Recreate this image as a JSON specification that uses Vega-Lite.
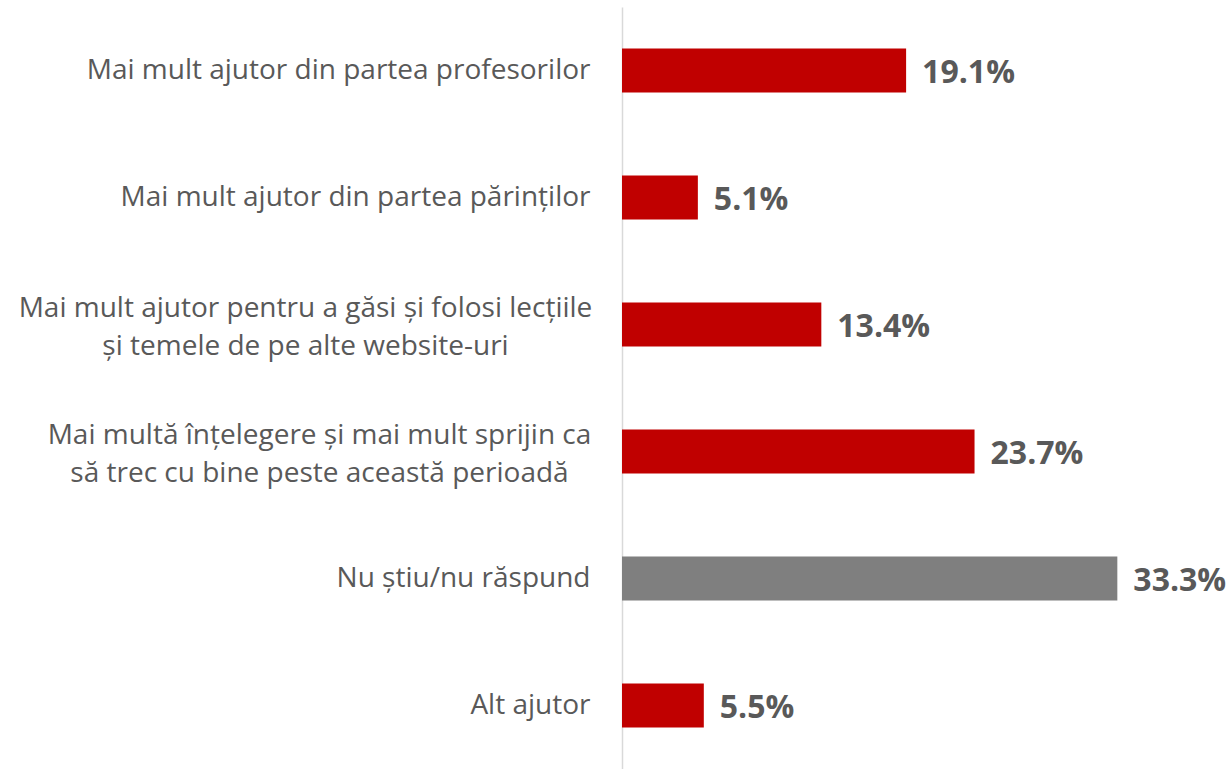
{
  "$schema": "https://vega.github.io/schema/vega-lite/v6.json",
  "autosize": "none",
  "width": 595,
  "height": 762,
  "padding": {"left": 622, "top": 7, "right": 10, "bottom": 0},
  "background": "white",
  "config": {"view": {"stroke": null}, "font": "Open Sans"},
  "data": {
    "values": [
      {"label": "Mai mult ajutor din partea profesorilor", "value": 0.191, "kind": "a"},
      {"label": "Mai mult ajutor din partea părinților", "value": 0.051, "kind": "a"},
      {"label": "Mai mult ajutor pentru a găsi și folosi lecțiile|și temele de pe alte website-uri", "value": 0.134, "kind": "a"},
      {"label": "Mai multă înțelegere și mai mult sprijin ca|să trec cu bine peste această perioadă", "value": 0.237, "kind": "a"},
      {"label": "Nu știu/nu răspund", "value": 0.333, "kind": "b"},
      {"label": "Alt ajutor", "value": 0.055, "kind": "a"}
    ]
  },
  "encoding": {
    "y": {
      "field": "label",
      "type": "nominal",
      "sort": null,
      "scale": {"paddingInner": 0.653, "paddingOuter": 0.3265},
      "axis": {
        "title": null,
        "ticks": false,
        "grid": false,
        "domain": true,
        "domainColor": "#d9d9d9",
        "domainWidth": 1.5,
        "labelFontSize": 28,
        "labelColor": "#595959",
        "labelLimit": 700,
        "labelLineHeight": 38,
        "labelExpr": "split(datum.value, '|')",
        "labelOffset": {"condition": {"test": "indexof(datum.value, '|') >= 0", "value": -16}, "value": 0},
        "labelAlign": {"condition": {"test": "indexof(datum.value, '|') >= 0", "value": "center"}, "value": "right"},
        "labelPadding": {"condition": [
          {"test": "indexof(datum.value, 'website') >= 0", "value": 317},
          {"test": "indexof(datum.value, 'sprijin') >= 0", "value": 303}
        ], "value": 32}
      }
    },
    "x": {
      "field": "value",
      "type": "quantitative",
      "scale": {"domain": [0, 0.4], "nice": false},
      "axis": null
    }
  },
  "layer": [
    {
      "mark": {"type": "bar"},
      "encoding": {
        "color": {
          "field": "kind",
          "type": "nominal",
          "scale": {"domain": ["a", "b"], "range": ["#c00000", "#7f7f7f"]},
          "legend": null
        }
      }
    },
    {
      "mark": {"type": "text", "align": "left", "baseline": "middle", "dx": 16, "dy": 2, "fontSize": 32, "fontWeight": "bold", "color": "#595959"},
      "encoding": {
        "text": {"field": "value", "type": "quantitative", "format": ".1%"}
      }
    }
  ]
}
